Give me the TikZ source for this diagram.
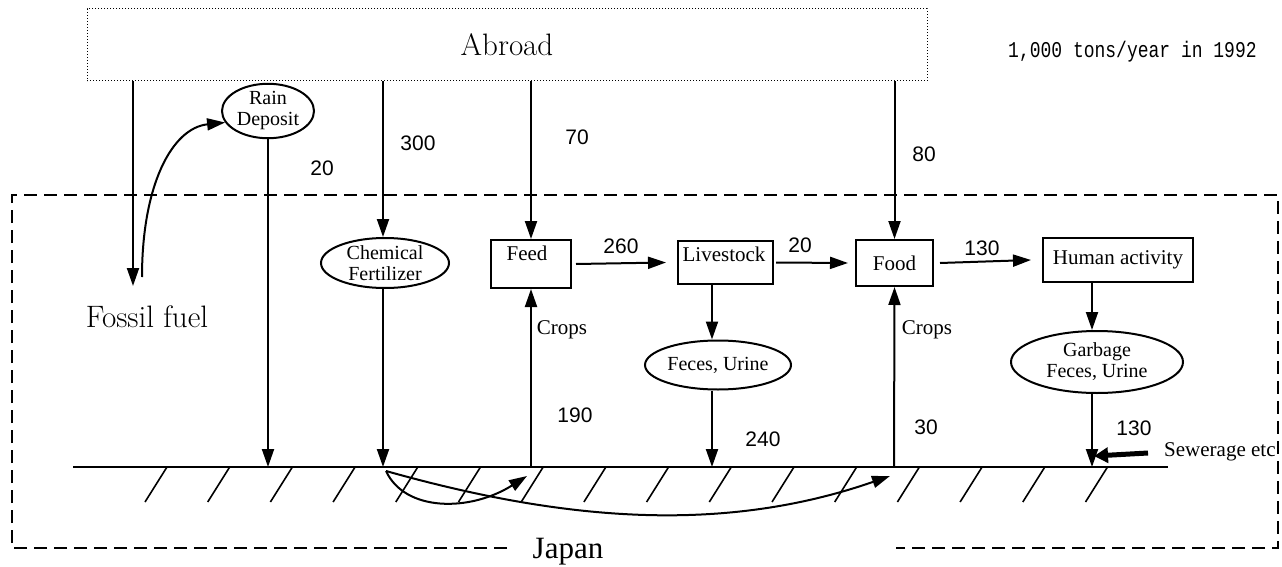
\documentclass[tikz,border=0pt]{standalone}
\usepackage{fontspec}
\usetikzlibrary{arrows.meta,shapes.geometric}
\newfontfamily\tnr{Liberation Serif}
\newfontfamily\arl{Liberation Sans}
\newfontfamily\crn{Liberation Mono}
\begin{document}
\begin{tikzpicture}[x=1pt,y=-1pt,
  line/.style={line width=2pt},
  arr/.style={line width=2pt,-{Triangle[length=18pt,width=12pt]}},
  box/.style={draw,line width=2pt,rectangle,inner sep=0pt},
  ell/.style={draw,line width=2pt,ellipse,inner sep=0pt,align=center,font=\tnr\fontsize{20}{21}\selectfont},
  num/.style={font=\arl\fontsize{21}{21}\selectfont,inner sep=0pt},
  lbl/.style={font=\tnr\fontsize{21}{21}\selectfont,inner sep=0pt},
  jborder/.style={line width=2.8pt,dash pattern=on 13pt off 7pt},
]
\useasboundingbox (0,0) rectangle (1282,567);
% Abroad
\node[draw,dotted,line width=1pt,minimum width=840pt,minimum height=72pt,font=\fontsize{31}{31}\selectfont] (abroad) at (507,45) {Abroad};
\node[font=\crn\fontsize{18}{18}\selectfont,anchor=west,inner sep=0pt] (unit) at (1008,52) {\scalebox{1}[1.25]{1,000 tons/year in 1992}};
% Japan border
\coordinate (j1) at (507,548);
\coordinate (j2) at (12,548);
\coordinate (j3) at (12,195);
\coordinate (j4) at (1278,195);
\coordinate (j5) at (1278,548);
\coordinate (j6) at (896,548);
\draw[jborder] (j1) -- (j2) -- (j3) -- (j4) -- (j5) -- (j6);
\node[font=\tnr\fontsize{31}{31}\selectfont,inner sep=0pt] (japan) at (568,552) {Japan};
% ground
\coordinate (gL) at (73,467);
\coordinate (gR) at (1168,467);
\draw[line] (gL) -- (gR);
\foreach \i in {0,...,15} \draw[line width=1.6pt] (167+62.7*\i,467) -- ++(-22,35);
% nodes
\node[ell,minimum width=92pt,minimum height=54pt] (rain) at (268,111) {Rain\\Deposit};
\node[font=\fontsize{31}{31}\selectfont,inner sep=0pt] (fossil) at (147,317) {Fossil fuel};
\node[ell,minimum width=128pt,minimum height=50pt] (chem) at (385,263) {Chemical\\Fertilizer};
\node[box,minimum width=80pt,minimum height=48pt] (feed) at (531,264) {};
\node[lbl] (feedt) at (527,253) {Feed};
\node[box,minimum width=95pt,minimum height=43pt] (live) at (725.5,262.5) {};
\node[lbl] (livet) at (724,254) {Livestock};
\node[box,minimum width=77pt,minimum height=46pt,font=\tnr\fontsize{21}{21}\selectfont] (food) at (894.5,263) {Food};
\node[box,minimum width=150pt,minimum height=44pt,font=\tnr\fontsize{21}{21}\selectfont] (human) at (1118,260) {Human activity};
\node[ell,minimum width=146pt,minimum height=49pt] (fec) at (718,365) {Feces, Urine};
\node[ell,minimum width=172pt,minimum height=62pt] (garb) at (1097,362) {Garbage\\Feces, Urine};
% coordinates
\coordinate (ff) at (133,286);
\coordinate (ffs) at (142,277);
\coordinate (gRain) at (268,467);
\coordinate (gChem) at (383,467);
\coordinate (gFeed) at (531,467);
\coordinate (lx) at (712,0);
\coordinate (hx) at (1092,0);
\coordinate (gFood) at (894,467);
\coordinate (fTip) at (527,476);
\coordinate (dTip) at (890,476);
\coordinate (cS) at (386,471);
\coordinate (sw1) at (1148,453);
\coordinate (sw2) at (1094,456);
% arrows from abroad
\draw[arr] (abroad.south -| ff) -- (ff);
\draw[arr] (ffs) .. controls (142,185) and (172,128) .. (rain.195);
\draw[arr] (rain.south) -- (gRain);
\draw[arr] (abroad.south -| gChem) -- (chem.north -| gChem);
\draw[arr] (chem.south -| gChem) -- (gChem);
\draw[arr] (abroad.south -| feed.north) -- (feed.north);
\draw[arr] (gFeed) -- (feed.south);
\draw[arr] (abroad.south -| food.north) -- (food.north);
\draw[arr] (gFood) -- (food.south);
\draw[arr] ([xshift=4pt]feed.east) -- ([xshift=-11pt]live.west);
\draw[arr] ([xshift=2pt]live.east) -- ([xshift=-7pt]food.west);
\draw[arr] ([xshift=6pt]food.east) -- ([xshift=-11pt]human.west);
\draw[arr] (live.south -| lx) -- (fec.north -| lx);
\draw[arr] (fec.south -| lx) -- (gL -| lx);
\draw[arr] (human.south -| hx) -- (garb.north -| hx);
\draw[arr] (garb.south -| hx) -- (gL -| hx);
\draw[line width=5pt,-{Triangle[length=14pt,width=15pt]}] (sw1) -- (sw2);
\node[lbl,anchor=west] (sew) at (1164,452) {Sewerage etc};
% underground curves
\draw[arr] (cS) .. controls (405,512) and (470,512) .. (fTip);
\draw[arr] (cS) .. controls (560,520) and (720,535) .. (dTip);
% numbers
\node[num] (n1) at (322,168) {20};
\node[num] (n2) at (418,143) {300};
\node[num] (n3) at (577,137) {70};
\node[num] (n4) at (924,154) {80};
\node[num] (n5) at (621,246) {260};
\node[num] (n6) at (800,245) {20};
\node[num] (n7) at (982,248) {130};
\node[num] (n8) at (575,415) {190};
\node[num] (n9) at (763,439) {240};
\node[num] (n10) at (926,427) {30};
\node[num] (n11) at (1134,428) {130};
\node[lbl] (cr1) at (562,330) {Crops};
\node[lbl] (cr2) at (927,330) {Crops};
\end{tikzpicture}
\end{document}
